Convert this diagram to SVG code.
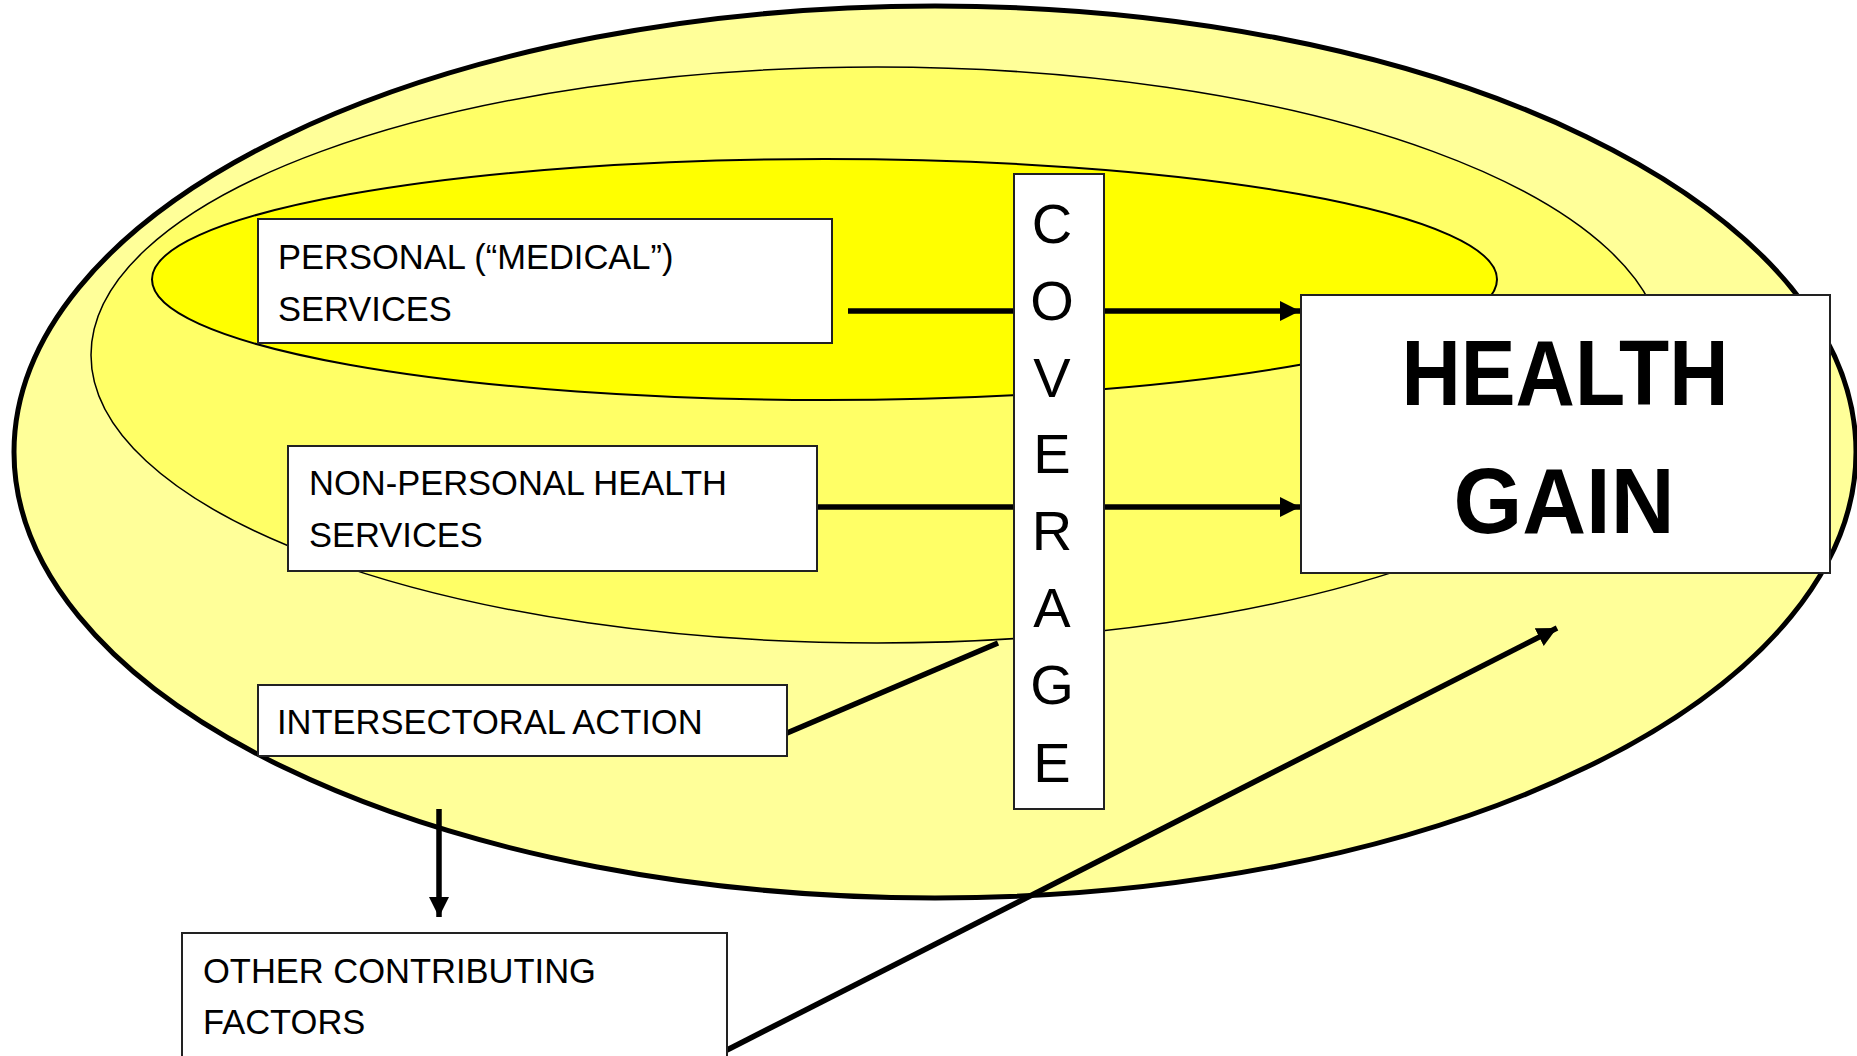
<svg xmlns="http://www.w3.org/2000/svg" width="1857" height="1056" viewBox="0 0 1857 1056">
<defs>
<style>
.box{fill:#fff;stroke:#222;stroke-width:2}
.lbl{font-family:"Liberation Sans",Arial,sans-serif;font-size:34.5px;fill:#000}
.cov{font-family:"Liberation Sans",Arial,sans-serif;font-size:56px;fill:#000;text-anchor:middle}
.big{font-family:"Liberation Sans",Arial,sans-serif;font-size:92px;font-weight:bold;fill:#000;text-anchor:middle}
.conn{stroke:#000;stroke-width:5.5;fill:none}
</style>
<marker id="ah" markerUnits="userSpaceOnUse" markerWidth="20" markerHeight="20" viewBox="0 0 18 18" refX="18" refY="9" orient="auto">
<path d="M0,0 L18,9 L0,18 Z" fill="#000"/>
</marker>
</defs>
<g id="rings">
<ellipse cx="935" cy="452" rx="921" ry="446" fill="#FFFF99" stroke="#000" stroke-width="5"/>
<ellipse cx="877" cy="355" rx="786" ry="288" fill="#FFFF66" stroke="#000" stroke-width="1.5"/>
<ellipse cx="824.5" cy="279.5" rx="672.5" ry="120.5" fill="#FFFF00" stroke="#000" stroke-width="2"/>
</g>
<g id="connectors">
<line class="conn" x1="848" y1="311" x2="1300" y2="311" marker-end="url(#ah)"/>
<line class="conn" x1="816" y1="507" x2="1300" y2="507" marker-end="url(#ah)"/>
<line class="conn" x1="787" y1="733" x2="998" y2="643"/>
<line class="conn" x1="439" y1="809" x2="439" y2="917" marker-end="url(#ah)"/>
<line class="conn" x1="727" y1="1050" x2="1557" y2="628" marker-end="url(#ah)"/>
</g>
<g id="personal">
<rect class="box" x="258" y="219" width="574" height="124"/>
<text class="lbl" x="278" y="269">PERSONAL (“MEDICAL”)</text>
<text class="lbl" x="278" y="321">SERVICES</text>
</g>
<g id="nonpersonal">
<rect class="box" x="288" y="446" width="529" height="125"/>
<text class="lbl" x="309" y="495">NON-PERSONAL HEALTH</text>
<text class="lbl" x="309" y="547">SERVICES</text>
</g>
<g id="intersectoral">
<rect class="box" x="258" y="685" width="529" height="71"/>
<text class="lbl" x="277" y="734">INTERSECTORAL ACTION</text>
</g>
<g id="other">
<rect class="box" x="182" y="933" width="545" height="140"/>
<text class="lbl" x="203" y="983">OTHER CONTRIBUTING</text>
<text class="lbl" x="203" y="1034">FACTORS</text>
</g>
<g id="coverage">
<rect class="box" x="1014" y="174" width="90" height="635"/>
<text class="cov" x="1052" y="243">C</text>
<text class="cov" x="1052" y="320">O</text>
<text class="cov" x="1052" y="397">V</text>
<text class="cov" x="1052" y="473">E</text>
<text class="cov" x="1052" y="550">R</text>
<text class="cov" x="1052" y="627">A</text>
<text class="cov" x="1052" y="704">G</text>
<text class="cov" x="1052" y="782">E</text>
</g>
<g id="healthgain">
<rect class="box" x="1301" y="295" width="529" height="278"/>
<text class="big" x="1565" y="405" textLength="327" lengthAdjust="spacingAndGlyphs">HEALTH</text>
<text class="big" x="1564" y="533" textLength="221" lengthAdjust="spacingAndGlyphs">GAIN</text>
</g>
</svg>
